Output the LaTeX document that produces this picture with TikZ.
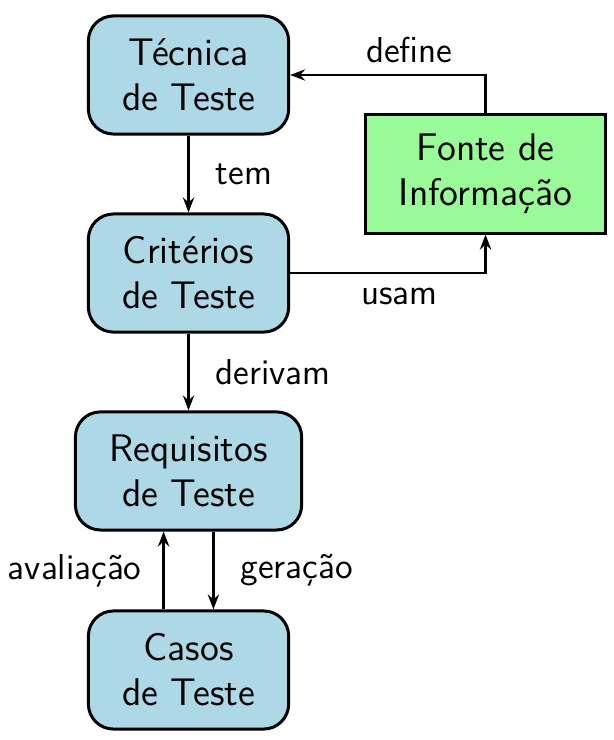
\documentclass[tikz,border=0pt]{standalone}
\usepackage{fontspec}
\usetikzlibrary{arrows.meta}
\definecolor{azulcaixa}{RGB}{173,216,230}
\definecolor{verdefonte}{RGB}{152,251,152}
\tikzset{
  caixa/.style={draw, line width=1.2pt, rounded corners=10pt, fill=azulcaixa, align=center, inner xsep=13.5pt, minimum height=1.66cm, font=\sffamily\fontsize{15.4}{18}\selectfont},
  fonteinfo/.style={draw, line width=1.2pt, fill=verdefonte, align=center, inner xsep=13.5pt, minimum height=1.66cm, font=\sffamily\fontsize{15.4}{18}\selectfont},
  seta/.style={line width=1pt, -{Stealth[length=6pt,width=4.5pt,inset=2pt]}},
  rotulo/.style={font=\sffamily\fontsize{14.4}{17}\selectfont},
}

\begin{document}
\begin{tikzpicture}
        \useasboundingbox (0cm, 0cm) rectangle (8.617cm, -10.402cm);
        \node (tecnica) [caixa] at (2.650cm, -1.054cm) {Técnica\\de Teste};
        \node (criterios) [caixa] at (2.650cm, -3.838cm) {Critérios\\de Teste};
        \node (requisitos) [caixa] at (2.650cm, -6.620cm) {Requisitos\\de Teste};
        \node (casos) [caixa] at (2.650cm, -9.418cm) {Casos\\de Teste};
        \node (fonte) [fonteinfo] at (6.825cm, -2.446cm) {Fonte de\\Informação};
        \draw [seta] (tecnica) -- node [rotulo, right=7pt] {tem} (criterios);
        \draw [seta] (criterios) -- node [rotulo, right=7pt] {derivam} (requisitos);
        \draw [seta] ([xshift=0.35cm]requisitos.south) -- node [rotulo, right=7pt] {geração} ([xshift=0.35cm]casos.north);
        \draw [seta] ([xshift=-0.35cm]casos.north) -- node [rotulo, left=5pt] {avaliação} ([xshift=-0.35cm]requisitos.south);
        \draw [seta] (fonte.north) |- node [rotulo, above=1pt, pos=0.695] {define} (tecnica.east);
        \draw [seta] (criterios.east) -| node [rotulo, below=2pt, pos=0.28] {usam} (fonte.south);
\end{tikzpicture}
\end{document}
